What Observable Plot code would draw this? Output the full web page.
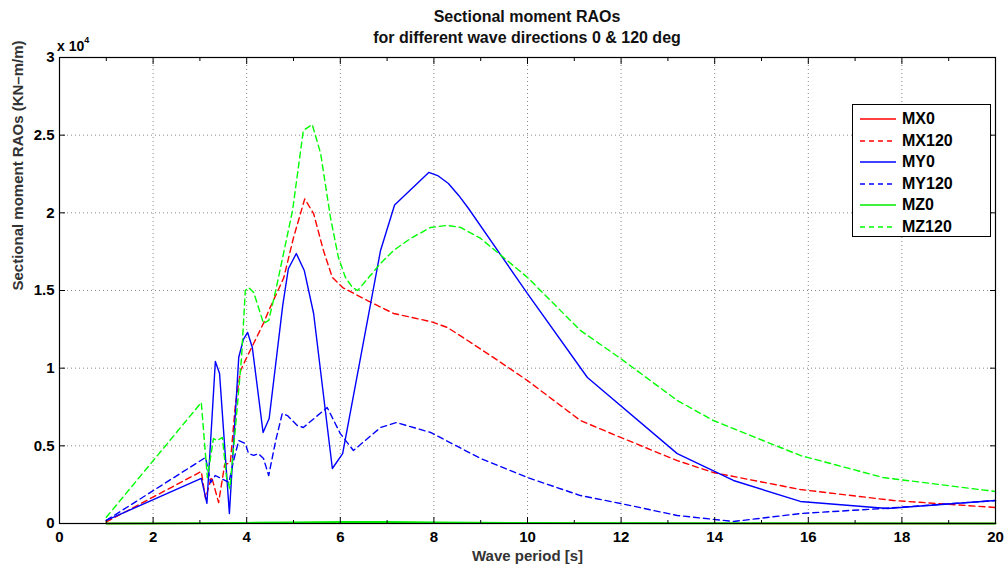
<!DOCTYPE html>
<html><head><meta charset="utf-8">
<script src="https://cdn.jsdelivr.net/npm/d3@7"></script>
<script src="https://cdn.jsdelivr.net/npm/@observablehq/plot@0.6"></script>
<style>
body{margin:0;background:#fff;font-family:"Liberation Sans",Arial,sans-serif;}
#wrap{position:relative;width:1008px;height:570px;overflow:hidden}
#title{position:absolute;left:59px;width:936px;top:6px;text-align:center;font-weight:bold;font-size:16px;line-height:21px;color:#111}
#expo{position:absolute;left:57px;top:37px;font-weight:bold;font-size:14px;color:#000}
#expo sup{font-size:9px;position:relative;top:-2px}
#legend{position:absolute;left:852px;top:104px;width:139px;height:133px;border:1px solid #000;background:#fff;box-sizing:border-box}
.row{position:absolute;left:7px;height:22px;display:flex;align-items:center;font-weight:bold;font-size:16px;color:#000}
.row svg{margin-right:6px}
</style></head><body>
<div id="wrap">
  <div id="title">Sectional moment RAOs<br>for different wave directions 0 &amp; 120 deg</div>
</div>
<script>
// ---- data (values in KN-m/m) ----
const seriesNames = ["MX0", "MX120", "MY0", "MY120", "MZ0", "MZ120"];
const seriesColors = ["#ff0000", "#ff0000", "#0000ff", "#0000ff", "#00ee00", "#00ff00"];
const seriesDashed = [false, true, false, true, false, true];

const periodMX0 = [1, 3, 4, 5, 6, 8, 10, 14, 20];
const valuesMX0 = [0, 10, 20, 30, 30, 20, 10, 5, 0];

const periodMX120 = [1, 3.03, 3.12, 3.25, 3.4, 3.53, 3.65, 3.76, 3.87, 3.97, 4.15, 4.36, 4.5, 4.79, 5.0, 5.24, 5.43, 5.64, 5.83, 6.05, 6.58, 7.14, 7.93, 8.29, 8.72, 9.27, 10.0, 11.13, 11.99, 13.2, 13.97, 15.83, 17.82, 20];
const valuesMX120 = [100, 3350, 1600, 3000, 1350, 3800, 3900, 7700, 9850, 10500, 11600, 12900, 13900, 15800, 18400, 20900, 19950, 17570, 15840, 15190, 14350, 13520, 13000, 12620, 11780, 10690, 9200, 6630, 5540, 4050, 3280, 2190, 1480, 1030];

const periodMY0 = [1, 3.03, 3.15, 3.33, 3.42, 3.63, 3.83, 3.93, 4.02, 4.12, 4.35, 4.48, 4.77, 4.89, 5.06, 5.23, 5.43, 5.83, 6.05, 6.86, 7.16, 7.89, 8.08, 8.31, 8.53, 8.74, 10.0, 11.28, 13.2, 14.4, 15.83, 17.69, 20];
const valuesMY0 = [200, 2900, 1300, 10430, 9660, 640, 10700, 11850, 12300, 11330, 5860, 6760, 14040, 16400, 17380, 16290, 13520, 3540, 4500, 17580, 20500, 22600, 22400, 21890, 21120, 20280, 14800, 9400, 4500, 2770, 1420, 970, 1480];

const periodMY120 = [1, 3.12, 3.23, 3.33, 3.62, 3.72, 3.83, 3.97, 4.04, 4.15, 4.25, 4.36, 4.47, 4.62, 4.76, 4.87, 5.08, 5.21, 5.72, 6.0, 6.28, 6.86, 7.2, 7.93, 9.0, 10.0, 11.13, 11.99, 13.2, 14.4, 15.83, 17.6, 20];
const valuesMY120 = [200, 4250, 2640, 3090, 2640, 4050, 5340, 5150, 4500, 4380, 4500, 4180, 3090, 5340, 7080, 6950, 6310, 6180, 7470, 5790, 4700, 6180, 6500, 5860, 4180, 2960, 1800, 1290, 515, 130, 640, 970, 1480];

const periodMZ0 = [1, 3, 4, 5, 6, 7, 8, 10, 14, 20];
const valuesMZ0 = [0, 20, 40, 60, 90, 90, 60, 30, 10, 0];

const periodMZ120 = [1, 3.03, 3.1, 3.16, 3.29, 3.37, 3.48, 3.57, 3.64, 3.76, 3.89, 3.97, 4.04, 4.15, 4.36, 4.47, 4.62, 4.98, 5.21, 5.4, 5.58, 5.79, 5.96, 6.11, 6.26, 6.37, 6.86, 7.14, 7.5, 7.93, 8.29, 8.57, 9.0, 10.0, 11.13, 11.99, 13.2, 13.97, 15.83, 17.6, 20];
const valuesMZ120 = [400, 7790, 5150, 2960, 5470, 5340, 5540, 2960, 2250, 6180, 10690, 15000, 15190, 14870, 12880, 13070, 15000, 20150, 25300, 25690, 23820, 19700, 17120, 15840, 15190, 15000, 16740, 17580, 18350, 19060, 19190, 19060, 18350, 15840, 12430, 10620, 7920, 6630, 4380, 2960, 2060];

const xTicks = [0, 2, 4, 6, 8, 10, 12, 14, 16, 18, 20];
const xMinorTicks = [1, 3, 5, 7, 9, 11, 13, 15, 17, 19];
const yTicks = [0, 5000, 10000, 15000, 20000, 25000, 30000];
const xLabel = "Wave period [s]";
const yLabel = "Sectional moment RAOs (KN\u2013m/m)";

const periods = [periodMX0, periodMX120, periodMY0, periodMY120, periodMZ0, periodMZ120];
const values = [valuesMX0, valuesMX120, valuesMY0, valuesMY120, valuesMZ0, valuesMZ120];

const lineMarks = seriesNames.map((name, i) => {
  const rows = periods[i].map((p, j) => ({period: p, value: values[i][j]}));
  return Plot.line(rows, {
    x: "period", y: "value",
    stroke: seriesColors[i], strokeWidth: name === "MZ0" ? 2 : 1.4,
    strokeDasharray: seriesDashed[i] ? "6,4" : null
  });
});

const fnt = {fontSize: 15, fontWeight: "bold", fill: "#000"};

const chart = Plot.plot({
  width: 1008, height: 570,
  marginLeft: 59, marginRight: 13, marginTop: 57, marginBottom: 47,
  style: {fontFamily: "Liberation Sans, Arial, sans-serif", background: "transparent", overflow: "visible"},
  x: {domain: [0, 20]},
  y: {domain: [0, 30000]},
  marks: [
    Plot.gridX(xTicks.slice(1, -1), {stroke: "#888", strokeOpacity: 1, strokeDasharray: "1,3"}),
    Plot.gridY(yTicks.slice(1, -1), {stroke: "#888", strokeOpacity: 1, strokeDasharray: "1,3"}),
    ...lineMarks,
    Plot.frame({stroke: "#000", strokeWidth: 1.2}),
    Plot.axisX(xTicks, {anchor: "bottom", tickSize: -6, tickPadding: 14, tickFormat: d => String(d), ...fnt, label: null}),
    Plot.axisX(xMinorTicks, {anchor: "bottom", tickSize: -3, tickFormat: () => "", label: null}),
    Plot.axisX(xTicks, {anchor: "top", tickSize: -6, tickFormat: () => "", label: null}),
    Plot.axisX(xMinorTicks, {anchor: "top", tickSize: -3, tickFormat: () => "", label: null}),
    Plot.axisY(yTicks, {anchor: "left", tickSize: -6, tickPadding: 11, tickFormat: d => String(d / 1e4), ...fnt, label: null}),
    Plot.axisY(yTicks, {anchor: "right", tickSize: -6, tickFormat: () => "", label: null}),
    Plot.text([xLabel], {frameAnchor: "bottom", dy: 37, fontSize: 15, fontWeight: "bold", fill: "#333"}),
    Plot.text([yLabel], {frameAnchor: "left", dx: -41, rotate: -90, fontSize: 15, fontWeight: "bold", fill: "#333"})
  ]
});
chart.style.position = "absolute";
chart.style.left = "0px";
chart.style.top = "0px";
const wrap = document.getElementById("wrap");
wrap.insertBefore(chart, wrap.firstChild);

const expo = document.createElement("div");
expo.id = "expo";
expo.innerHTML = "x 10<sup>4</sup>";
wrap.appendChild(expo);

const legend = document.createElement("div");
legend.id = "legend";
seriesNames.forEach((name, i) => {
  const row = document.createElement("div");
  row.className = "row";
  row.style.top = (3 + i * 21.5) + "px";
  row.innerHTML = `<svg width="36" height="4"><line x1="0" y1="2" x2="36" y2="2" stroke="${seriesColors[i]}" stroke-width="1.4" ${seriesDashed[i] ? 'stroke-dasharray="5,4"' : ''}/></svg><span>${name}</span>`;
  legend.appendChild(row);
});
wrap.appendChild(legend);
</script>
</body></html>
